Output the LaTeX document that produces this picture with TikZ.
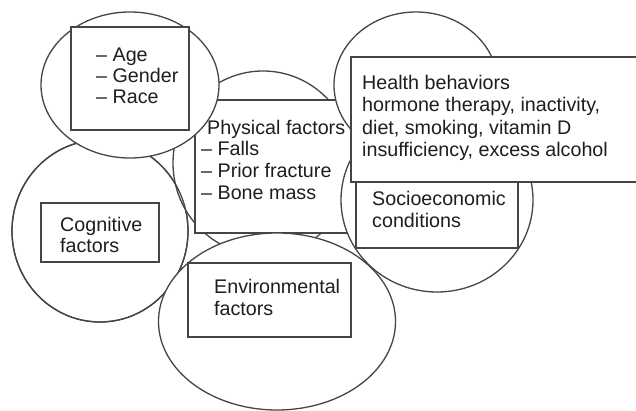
\documentclass[tikz,border=0pt]{standalone}
\usepackage{fontspec}
\setmainfont{Liberation Sans}
\usetikzlibrary{shapes.geometric}
\definecolor{linec}{HTML}{454545}
\definecolor{textc}{HTML}{1E1E1E}
\begin{document}
\begin{tikzpicture}[x=1pt,y=-1pt,
  ell/.style={ellipse, draw=linec, fill=white, line width=1.3pt, inner sep=0pt},
  box/.style={rectangle, draw=linec, fill=white, line width=1.3pt, inner sep=0pt},
  outl/.style={draw=linec, line width=1.3pt},
  txt/.style={anchor=base west, inner sep=0pt, text=textc, font=\fontsize{19.7}{22}\selectfont}]
\clip (0,0) rectangle (636,411);
\fill[white] (0,0) rectangle (636,411);
% cognitive circle
\node[ell, minimum width=176pt, minimum height=182pt] (cogE) at (100,231) {};
% physical ellipse (cognitive outline stays visible across it)
\node[ell, minimum width=180pt, minimum height=184pt] (physE) at (263,163) {};
\draw[outl] (cogE.center) ellipse [x radius=88pt, y radius=91pt];
\node[box, minimum width=165pt, minimum height=133pt] (physB) at (277.5,166.5) {};
\node[txt] (p0) at (207,135) {Physical factors};
\node[txt] (p1) at (201,156) {\textendash\ Falls};
\node[txt] (p2) at (201,178) {\textendash\ Prior fracture};
\node[txt] (p3) at (201,200) {\textendash\ Bone mass};
% demographic ellipse and box
\node[ell, minimum width=178pt, minimum height=146pt] (demoE) at (130,85) {};
\node[box, minimum width=118pt, minimum height=103pt] (demoB) at (130,78.5) {};
\node[txt] (d1) at (96,62) {\textendash\ Age};
\node[txt] (d2) at (96,83) {\textendash\ Gender};
\node[txt] (d3) at (96,104) {\textendash\ Race};
% environmental
\node[ell, minimum width=237pt, minimum height=177pt] (envE) at (277,321.5) {};
\node[box, minimum width=163pt, minimum height=74pt] (envB) at (269.5,300) {};
\node[txt] (e1) at (214,293) {Environmental};
\node[txt] (e2) at (214,315) {factors};
% cognitive box
\node[box, minimum width=118pt, minimum height=59pt] (cogB) at (100,232.5) {};
\node[txt] (c1) at (60,232) {Cognitive};
\node[txt] (c2) at (60,253) {factors};
% socioeconomic
\node[ell, minimum width=192pt, minimum height=184pt] (socE) at (437,200) {};
\node[box, minimum width=162pt, minimum height=78pt] (socB) at (437,209) {};
\node[txt] (s1) at (372,206) {Socioeconomic};
\node[txt] (s2) at (372,228) {conditions};
% health behaviors
\node[ell, minimum width=164pt, minimum height=146pt] (healthE) at (416,85) {};
\node[box, minimum width=309pt, minimum height=125pt] (healthB) at (505.5,119.5) {};
\node[txt] (h1) at (362,90) {Health behaviors};
\node[txt] (h2) at (362,112) {hormone therapy, inactivity,};
\node[txt] (h3) at (362,135) {diet, smoking, vitamin D};
\node[txt] (h4) at (362,157) {insufficiency, excess alcohol};
\end{tikzpicture}
\end{document}
